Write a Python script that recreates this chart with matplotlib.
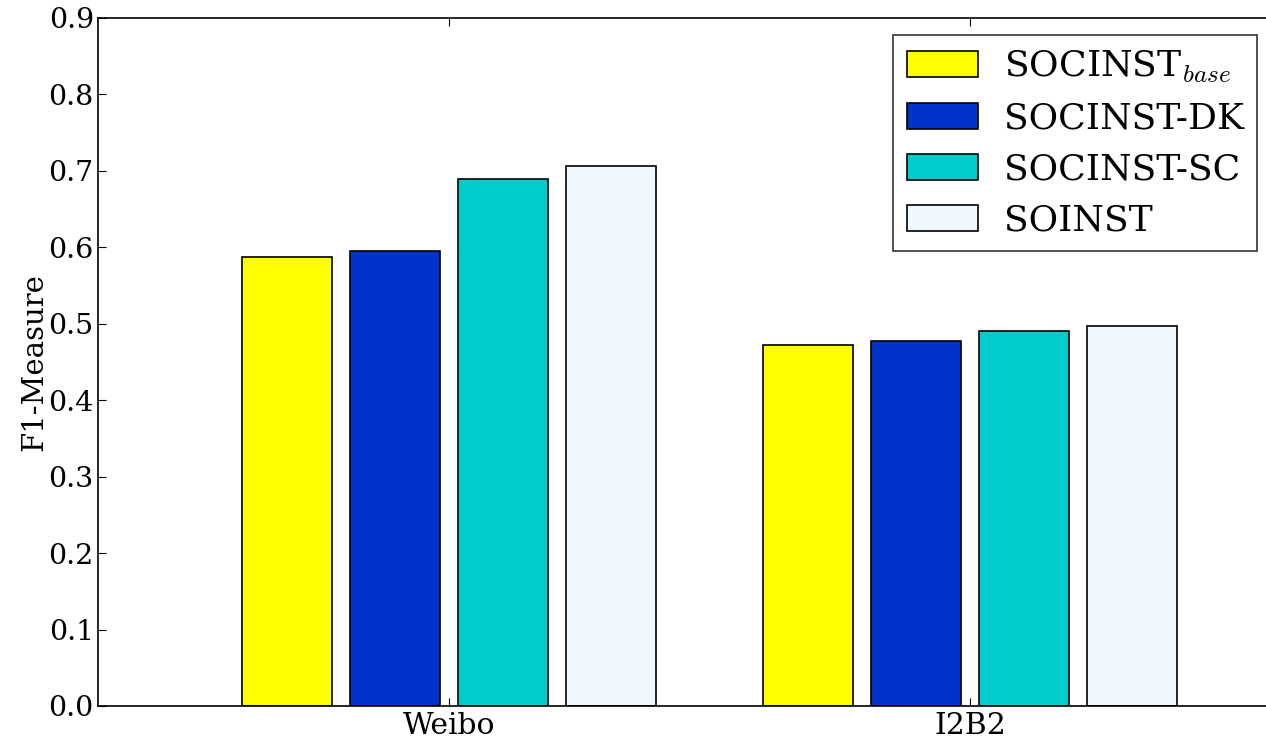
import matplotlib
matplotlib.use('Agg')
from matplotlib import pyplot as plt
import numpy as np

# F1 scores per dataset and method
datasets = ['Weibo', 'I2B2']
methods = [r'SOCINST$_{base}$', 'SOCINST-DK', 'SOCINST-SC', 'SOINST']
socinst_base = [0.587, 0.472]
socinst_dk = [0.595, 0.478]
socinst_sc = [0.689, 0.491]
soinst = [0.706, 0.497]
colors = ['#ffff00', '#0033cc', '#00cccc', '#f0f8ff']

plt.rcParams.update({
    'font.family': 'DejaVu Serif',
    'mathtext.fontset': 'cm',
    'xtick.direction': 'in',
    'ytick.direction': 'in',
    'xtick.top': True,
    'ytick.right': False,
    'xtick.major.size': 6,
    'ytick.major.size': 6,
})

fig = plt.figure(figsize=(12.66, 7.39), dpi=100)
ax = fig.add_axes([98 / 1266, 1 - 706 / 739, 1 - 98 / 1266, (706 - 18) / 739])

x = np.arange(len(datasets))
step = 0.207
width = 0.173
series = [socinst_base, socinst_dk, socinst_sc, soinst]
for i, vals in enumerate(series):
    ax.bar(x + (i - 1.5) * step, vals, width, color=colors[i],
           edgecolor='black', linewidth=1.2, label=methods[i])

ax.set_xlim(-0.674, 1.568)
ax.set_ylim(0, 0.9)
ax.set_yticks(np.arange(0, 0.91, 0.1))
ax.set_xticks(x)
ax.set_xticklabels(datasets, fontsize=21.5)
ax.tick_params(axis='y', labelsize=20.5, pad=3)
ax.tick_params(axis='x', pad=4)
ax.set_ylabel('F1-Measure', fontsize=21, labelpad=0)
ax.spines['right'].set_visible(False)
for s in ['left', 'top', 'bottom']:
    ax.spines[s].set_linewidth(1.2)

leg = ax.legend(loc='upper right', fontsize=26, fancybox=False,
                handlelength=1.97, handleheight=0.7, handletextpad=0.72,
                labelspacing=0.47, borderpad=0.37, borderaxespad=0,
                bbox_to_anchor=(0.9923, 0.975))
leg.get_frame().set_edgecolor('black')
leg.get_frame().set_linewidth(1.2)

plt.savefig('out.png', dpi=100)
